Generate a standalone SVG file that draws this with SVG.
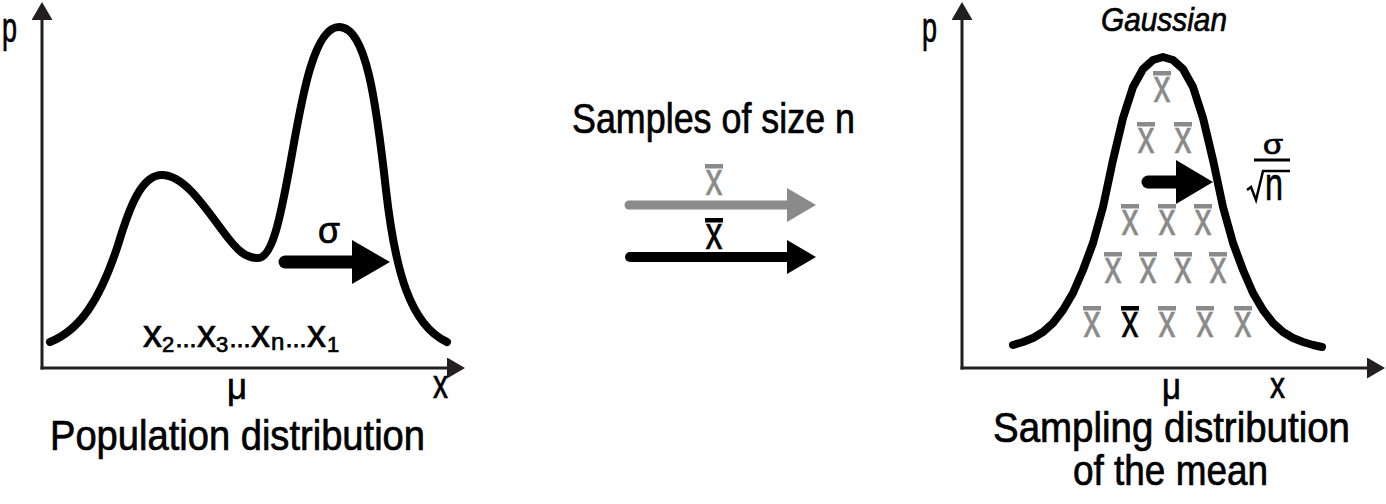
<svg xmlns="http://www.w3.org/2000/svg" width="1386" height="504" viewBox="0 0 1386 504">
<defs>
<style>
.t{font-family:"Liberation Sans Narrow","Liberation Sans",Arial,sans-serif;fill:#000}
.h{stroke:#000;stroke-width:0.7}
.it{font-style:italic}
.axis{stroke:#231f20;stroke-width:3;fill:none}
.curve{stroke:#000;stroke-width:8;fill:none;stroke-linecap:round;stroke-linejoin:round}
.shaft{stroke-linecap:round;fill:none}
.gray{fill:#8a8a8a}
.grays{stroke:#8a8a8a}
</style>
<marker id="ah" markerUnits="userSpaceOnUse" markerWidth="20" markerHeight="22" viewBox="0 0 20 22" refX="1" refY="10.5" orient="auto"><path d="M0,0 L18,10.5 L0,21 z" fill="#231f20"/></marker>
<g id="xb"><rect x="-8.5" y="-30.5" width="17" height="3.5"/><text class="t" x="0" y="0" style="fill:inherit;stroke:inherit" stroke-width="0.6" font-size="46" text-anchor="middle" textLength="17" lengthAdjust="spacingAndGlyphs">x</text></g>
</defs>
<rect width="1386" height="504" fill="#fff"/>

<g id="population">
<line class="axis" x1="42" y1="369.5" x2="42" y2="19" marker-end="url(#ah)"/>
<line class="axis" x1="40.5" y1="368" x2="448" y2="368" marker-end="url(#ah)"/>
<path class="curve" d="M50,342 C80,330 100,300 118,245 C130,205 142,175 162,175 C182,175 200,200 222,230 C238,252 246,258 258,258 C272,258 280,220 290,165 C300,110 312,27 339,27 C366,27 376,100 386,190 C395,270 410,325 447,342"/>
<line class="shaft" x1="285" y1="262" x2="356" y2="262" stroke="#000" stroke-width="13"/>
<path d="M352,240 L390,262 L352,284 z" fill="#000"/>
<text class="t h" x="318" y="243" font-size="36" stroke-width="0.4" textLength="22" lengthAdjust="spacingAndGlyphs">σ</text>
<text class="t h" x="2" y="42" font-size="42" stroke-width="0.4" textLength="15" lengthAdjust="spacingAndGlyphs">p</text>
<text class="t h" x="227" y="399" font-size="37" stroke-width="0.4" textLength="20" lengthAdjust="spacingAndGlyphs">μ</text>
<text class="t h" x="433" y="398" font-size="40" stroke-width="0.4" textLength="15" lengthAdjust="spacingAndGlyphs">x</text>
<text id="samples-list" class="t h" y="347" font-size="38" stroke-width="0.4"><tspan x="143">x</tspan><tspan x="162" dy="5" font-size="22">2</tspan><tspan x="175" dy="-5" font-size="22" stroke-width="1.2">…</tspan><tspan x="197">x</tspan><tspan x="216" dy="5" font-size="22">3</tspan><tspan x="229" dy="-5" font-size="22" stroke-width="1.2">…</tspan><tspan x="251">x</tspan><tspan x="271" dy="3" font-size="24">n</tspan><tspan x="285" dy="-3" font-size="22" stroke-width="1.2">…</tspan><tspan x="307">x</tspan><tspan x="327" dy="5" font-size="22">1</tspan></text>
<text class="t h" x="50" y="450" font-size="42" textLength="375" lengthAdjust="spacingAndGlyphs">Population distribution</text>
</g>

<g id="sampling-label">
<text class="t h" x="572" y="133" font-size="42" textLength="283" lengthAdjust="spacingAndGlyphs">Samples of size n</text>
</g>

<g id="connectors">
<line class="shaft grays" x1="629" y1="205" x2="790" y2="205" stroke-width="9"/>
<path class="gray" d="M787,188 L816,205 L787,222 z"/>
<use href="#xb" x="714" y="195" fill="#8a8a8a" stroke="#8a8a8a"/>
<line class="shaft" x1="630" y1="257" x2="790" y2="257" stroke="#000" stroke-width="10"/>
<path d="M787,240 L816,257 L787,274 z" fill="#000"/>
<use href="#xb" x="714" y="249" fill="#000" stroke="#000"/>
</g>

<g id="sampling-distribution">
<line class="axis" x1="962" y1="369.5" x2="962" y2="19" marker-end="url(#ah)"/>
<line class="axis" x1="960.5" y1="368" x2="1368" y2="368" marker-end="url(#ah)"/>
<path class="curve" d="M1013,345 L1023,342 L1033,338 L1043,332 L1053,323 L1063,310 L1073,293 L1083,270 L1093,243 L1103,207 L1113,160 L1123,118 L1133,87 L1143,69 L1153,60 L1163,57 L1173,60 L1183,69 L1193,87 L1203,118 L1213,160 L1223,207 L1233,243 L1243,270 L1253,293 L1263,310 L1273,323 L1283,332 L1293,338 L1303,342 L1313,345 L1322,347"/>
<text class="t it h" x="1101" y="31" font-size="33" stroke-width="0.5" textLength="126" lengthAdjust="spacingAndGlyphs">Gaussian</text>
<text class="t h" x="922" y="42" font-size="42" stroke-width="0.4" textLength="15" lengthAdjust="spacingAndGlyphs">p</text>
<g id="means">
<use href="#xb" x="1162" y="102" fill="#8a8a8a" stroke="#8a8a8a"/>
<use href="#xb" x="1146" y="153" fill="#8a8a8a" stroke="#8a8a8a"/>
<use href="#xb" x="1183" y="153" fill="#8a8a8a" stroke="#8a8a8a"/>
<use href="#xb" x="1130" y="235" fill="#8a8a8a" stroke="#8a8a8a"/>
<use href="#xb" x="1167" y="235" fill="#8a8a8a" stroke="#8a8a8a"/>
<use href="#xb" x="1203" y="235" fill="#8a8a8a" stroke="#8a8a8a"/>
<use href="#xb" x="1113" y="283" fill="#8a8a8a" stroke="#8a8a8a"/>
<use href="#xb" x="1148" y="283" fill="#8a8a8a" stroke="#8a8a8a"/>
<use href="#xb" x="1183" y="283" fill="#8a8a8a" stroke="#8a8a8a"/>
<use href="#xb" x="1218" y="283" fill="#8a8a8a" stroke="#8a8a8a"/>
<use href="#xb" x="1092" y="337" fill="#8a8a8a" stroke="#8a8a8a"/>
<use href="#xb" x="1130" y="337" fill="#000" stroke="#000"/>
<use href="#xb" x="1167" y="337" fill="#8a8a8a" stroke="#8a8a8a"/>
<use href="#xb" x="1205" y="337" fill="#8a8a8a" stroke="#8a8a8a"/>
<use href="#xb" x="1243" y="337" fill="#8a8a8a" stroke="#8a8a8a"/>
</g>
<line class="shaft" x1="1148" y1="182" x2="1180" y2="182" stroke="#000" stroke-width="13"/>
<path d="M1176,160 L1213,182 L1176,204 z" fill="#000"/>
<text class="t h" x="1263" y="154" font-size="28" stroke-width="0.5" textLength="20" lengthAdjust="spacingAndGlyphs">σ</text>
<line x1="1254" y1="160" x2="1290" y2="160" stroke="#000" stroke-width="3"/>
<path d="M1247,190 L1251,187 L1256,200 L1263,171 L1290,171" fill="none" stroke="#000" stroke-width="2.5"/>
<text class="t h" x="1265" y="200" font-size="46" stroke-width="0.8" textLength="18" lengthAdjust="spacingAndGlyphs">n</text>
<text class="t h" x="1162" y="399" font-size="37" stroke-width="0.4" textLength="19" lengthAdjust="spacingAndGlyphs">μ</text>
<text class="t h" x="1270" y="398" font-size="36" stroke-width="0.4" textLength="15" lengthAdjust="spacingAndGlyphs">x</text>
<text class="t h" x="993" y="442" font-size="42" textLength="357" lengthAdjust="spacingAndGlyphs">Sampling distribution</text>
<text class="t h" x="1073" y="485" font-size="42" textLength="195" lengthAdjust="spacingAndGlyphs">of the mean</text>
</g>
</svg>
